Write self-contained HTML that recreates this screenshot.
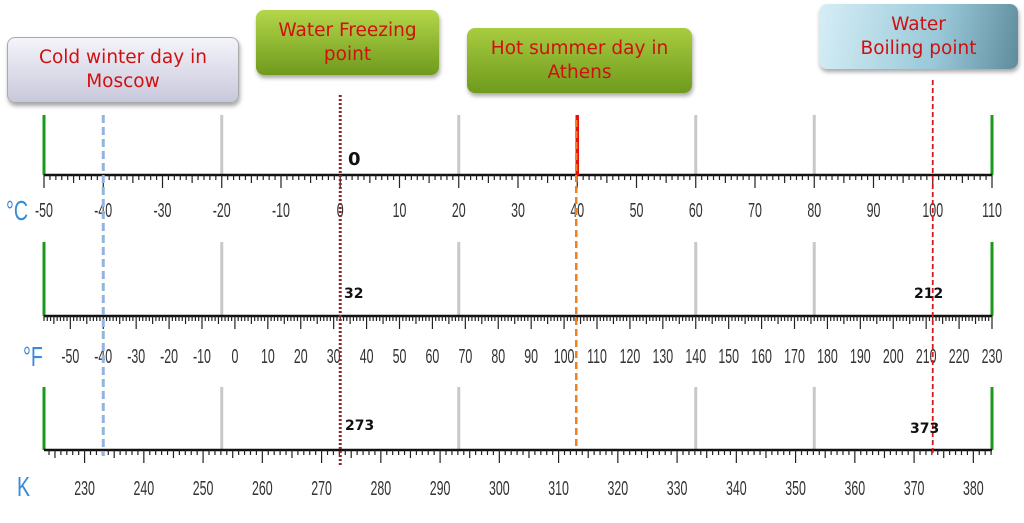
<!DOCTYPE html>
<html><head><meta charset="utf-8"><style>
body{margin:0;background:#fff;width:1024px;height:523px;overflow:hidden}
.box{position:absolute;border-radius:8px;box-shadow:1px 3px 4px rgba(0,0,0,.35);color:#d01010;font-family:"DejaVu Sans",sans-serif;font-size:18.5px;text-align:center;line-height:24px;display:flex;align-items:center;justify-content:center}
</style></head><body>
<svg id="s" width="1024" height="523" style="position:absolute;left:0;top:0"></svg>
<div class="box" style="left:7px;top:37px;width:230px;height:64px;background:linear-gradient(#f4f4fa,#c8c8dc);border:1px solid #aaa">Cold winter day in<br>Moscow</div>
<div class="box" style="left:256px;top:10px;width:183px;height:65px;background:linear-gradient(#b4d64a,#6f9a1c)">Water Freezing<br>point</div>
<div class="box" style="left:467px;top:28px;width:225px;height:65px;background:linear-gradient(#a8cc40,#6f9a1c)">Hot summer day in<br>Athens</div>
<div class="box" style="left:819px;top:4px;width:199px;height:65px;background:linear-gradient(100deg,#d6eef6,#98c8d8 60%,#5f8c9c)">Water<br>Boiling point</div>
<script>
var s=document.getElementById('s'),h='';
function L(x1,y1,x2,y2,c,w,d){h+='<line x1="'+x1+'" y1="'+y1+'" x2="'+x2+'" y2="'+y2+'" stroke="'+c+'" stroke-width="'+w+'"'+(d?' stroke-dasharray="'+d+'"':'')+'/>';}
var x0=44,x1=992;
function cx(c){return x0+(c+50)*948/160;}
[[115,175],[242,316],[387,450]].forEach(function(r){
 L(44,r[0],44,r[1],'#1a9a1a',3);L(992,r[0],992,r[1],'#1a9a1a',3);
 [-20,20,60,80].forEach(function(c){L(cx(c),r[0],cx(c),r[1],'#c8c8c8',3);});
});
function axis2(y,vmin,vmax,step,maj,labs,ly){
 L(x0,y,x1,y,'#111',2.5);
 var sc=948/(vmax-vmin);
 for(var v=Math.ceil(vmin/step)*step;v<=vmax+1e-6;v+=step){
  var x=x0+(v-vmin)*sc,len=5,m=((v%maj)+maj)%maj;
  if(m<1e-6||maj-m<1e-6)len=13;else if(Math.abs(m-maj/2)<1e-6)len=8;
  L(x,y,x,y+len,'#222',1.2);
 }
 labs.forEach(function(v){var x=x0+(v-vmin)*sc;
  h+='<text transform="translate('+x+','+ly+') scale(0.62,1)" font-family="Liberation Sans,sans-serif" font-size="20" fill="#333" text-anchor="middle">'+(v<0?'-'+(-v):v)+'</text>';});
}
var cl=[];for(var c=-50;c<=110;c+=10)cl.push(c);
axis2(175,-50,110,1,10,cl,217);
var fl=[];for(var f=-50;f<=230;f+=10)fl.push(f);
axis2(316,-58,230,1,10,fl,363);
var kl=[];for(var k=230;k<=380;k+=10)kl.push(k);
axis2(450,223.15,383.15,1,10,kl,495);
h+='<text transform="translate(6,220) scale(0.7,1)" font-family="Liberation Sans,sans-serif" font-size="28" fill="#3a8ad8">°C</text>';
h+='<text transform="translate(23,366) scale(0.7,1)" font-family="Liberation Sans,sans-serif" font-size="28" fill="#3a8ad8">°F</text>';
h+='<text transform="translate(17,496) scale(0.7,1)" font-family="Liberation Sans,sans-serif" font-size="28" fill="#3a8ad8">K</text>';
L(cx(40),115,cx(40),175,'#e81010',3.5);
L(cx(40)-1,120,cx(40)-1,446,'#f08020',2.5,'7,4');
L(cx(-40),115,cx(-40),456,'#94b4dc',3,'8,4');
L(cx(0),95,cx(0),466,'#8a2a2a',3,'2,2');
L(cx(100),80,cx(100),456,'#d81820',1.8,'5,3');
function B(x,y,t,sz){h+='<text x="'+x+'" y="'+y+'" font-family="DejaVu Sans,sans-serif" font-weight="bold" font-size="'+sz+'" fill="#111">'+t+'</text>';}
B(348,165,'0',18);B(344,298,'32',14);B(914,298,'212',14);B(345,430,'273',14);B(910,433,'373',14);
s.innerHTML=h;
</script>
</body></html>
